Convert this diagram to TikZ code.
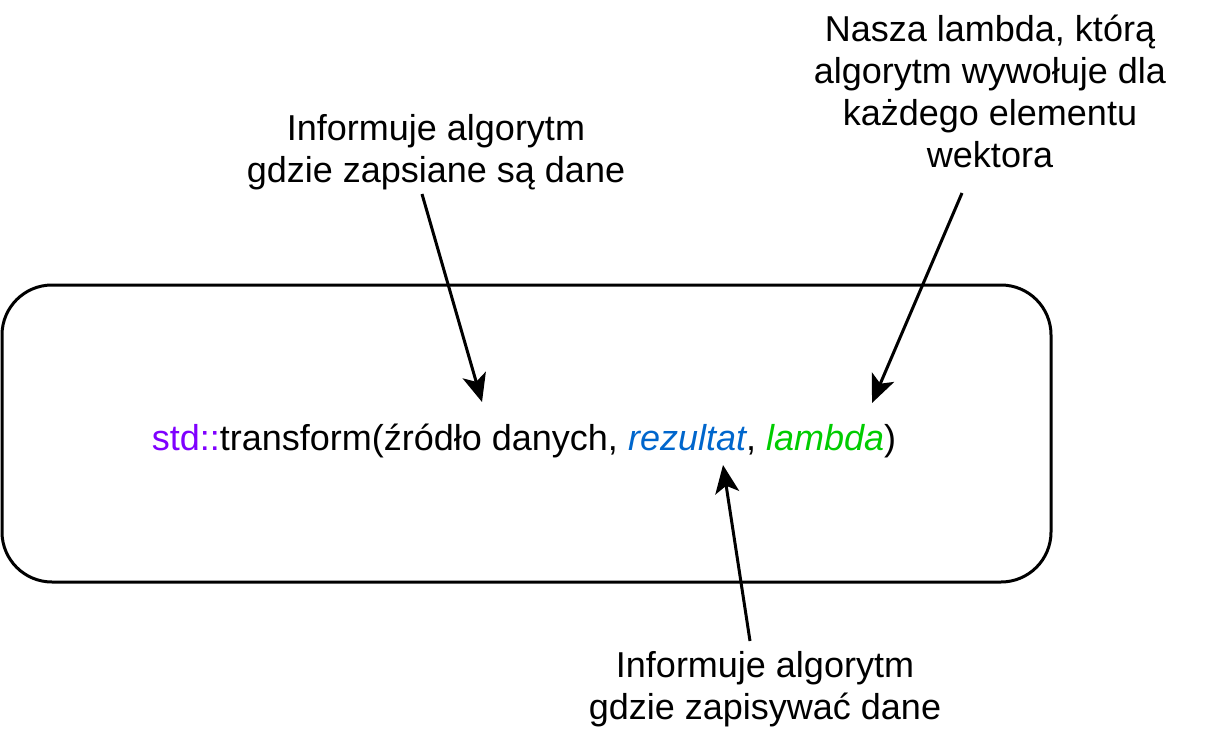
\documentclass[tikz,border=0pt]{standalone}
\usepackage{fontspec}
\setmainfont{Liberation Sans}
\usetikzlibrary{arrows.meta}
\definecolor{nsviolet}{HTML}{7F00FF}
\definecolor{resblue}{HTML}{0066CC}
\definecolor{lamgreen}{HTML}{00CC00}
\begin{document}
\begin{tikzpicture}[x=1pt,y=-1pt,
  label/.style={align=center,inner sep=0pt,font=\fontsize{36}{42}\selectfont},
  pointer/.style={line width=3pt,-{Stealth[length=28pt,width=24pt,inset=7pt]}},
  frame/.style={draw,line width=3pt,rounded corners=50pt}]
\useasboundingbox (0,0) rectangle (1206,735);
% call frame
\draw[frame] (2,285) rectangle (1051,582);
% the call itself
\node[label,anchor=base] (call) at (524,450)
  {\textcolor{nsviolet}{std::}transform(źródło danych, \textcolor{resblue}{\itshape rezultat}, \textcolor{lamgreen}{\itshape lambda})};
% explanations
\node[label] (src) at (436,152) {Informuje algorytm\\gdzie zapsiane są dane};
\node[label] (lam) at (990,91) {Nasza lambda, którą\\algorytm wywołuje dla\\każdego elementu\\wektora};
\node[label] (res) at (765,689) {Informuje algorytm\\gdzie zapisywać dane};
% arrow endpoints
\coordinate (srcA) at (422,194);
\coordinate (srcB) at (482,402);
\coordinate (lamA) at (962,193);
\coordinate (lamB) at (872,403);
\coordinate (resA) at (750,641);
\coordinate (resB) at (723,465);
\draw[pointer] (srcA) -- (srcB);
\draw[pointer] (lamA) -- (lamB);
\draw[pointer] (resA) -- (resB);
\end{tikzpicture}
\end{document}
